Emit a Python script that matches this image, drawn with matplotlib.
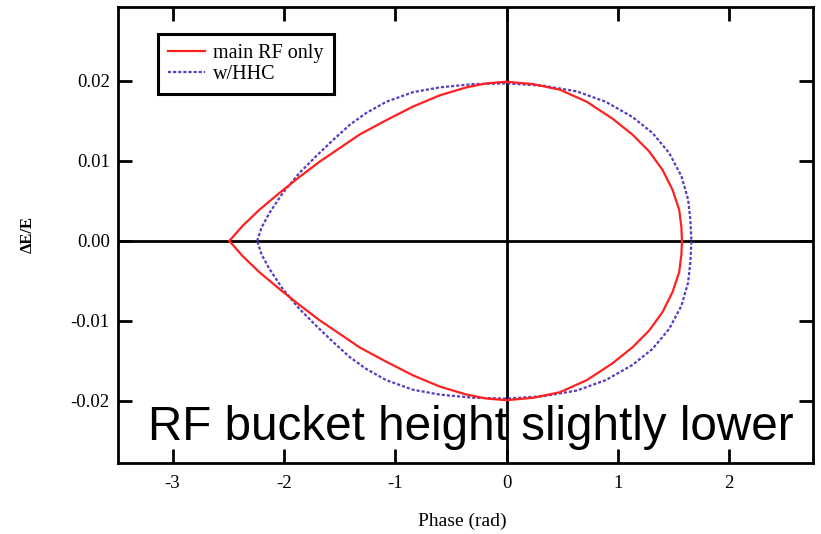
import matplotlib
matplotlib.use('Agg')
import matplotlib.pyplot as plt
import numpy as np

# upper half of each separatrix (lower half is the mirror)
phase_rf = [-2.49, -2.37, -2.22, -2.04, -1.86, -1.68, -1.50, -1.32, -1.08, -0.84,
            -0.60, -0.36, -0.18, 0.0, 0.24, 0.48, 0.72, 0.95, 1.13, 1.28,
            1.40, 1.49, 1.55, 1.57, 1.575]
de_rf = [0.0, 0.0019, 0.0039, 0.0060, 0.0080, 0.0099, 0.0116, 0.0133, 0.0151, 0.0168,
         0.0182, 0.0192, 0.0197, 0.0199, 0.0196, 0.0189, 0.0174, 0.0153, 0.0133, 0.0112,
         0.0089, 0.0064, 0.0039, 0.0017, 0.0]

phase_hhc = [-2.24, -2.20, -2.13, -2.01, -1.86, -1.71, -1.56, -1.41, -1.26, -1.08,
             -0.84, -0.60, -0.30, 0.0, 0.33, 0.63, 0.89, 1.13, 1.31, 1.46,
             1.57, 1.63, 1.65, 1.66]
de_hhc = [0.0, 0.0017, 0.0035, 0.0060, 0.0085, 0.0106, 0.0126, 0.0145, 0.0160, 0.0174,
          0.0186, 0.0192, 0.0196, 0.0197, 0.0194, 0.0187, 0.0174, 0.0155, 0.0135, 0.0110,
          0.0081, 0.0052, 0.0027, 0.0]

xticks = [-3, -2, -1, 0, 1, 2]
yticks = [-0.02, -0.01, 0.00, 0.01, 0.02]
ytick_labels = ['-0.02', '-0.01', '0.00', '0.01', '0.02']


def closed(x, y):
    x = np.array(x)
    y = np.array(y)
    return np.concatenate([x, x[::-1]]), np.concatenate([y, -y[::-1]])


fig = plt.figure(figsize=(8.21, 5.34), dpi=100)
ax = fig.add_axes([0.1437, 0.133, 0.8463, 0.854])

serif = 'Liberation Serif'

ax.axhline(0, color='black', lw=2, zorder=1)
ax.axvline(0, color='black', lw=2, zorder=1)

xr, yr = closed(phase_rf, de_rf)
xh, yh = closed(phase_hhc, de_hhc)
ax.plot(xr, yr, color='#ff2020', lw=1.6, label='main RF only', zorder=3,
        solid_joinstyle='round')
ax.plot(xh, yh, color='#5a3cc0', lw=1.6, ls=(0, (1.4, 0.9)), label='w/HHC', zorder=2)

ax.set_xlim(-3.49, 2.75)
ax.set_ylim(-0.02775, 0.02925)
ax.set_xticks(xticks)
ax.set_xticklabels([str(t) for t in xticks], fontfamily=serif, fontsize=13.5)
ax.set_yticks(yticks)
ax.set_yticklabels(ytick_labels, fontfamily=serif, fontsize=13.5)
ax.tick_params(direction='in', length=10, width=2, top=True, right=True)
ax.tick_params(axis='y', pad=6)
ax.tick_params(axis='x', pad=9)
for s in ax.spines.values():
    s.set_linewidth(2)

ax.set_xlabel('Phase (rad)', fontfamily=serif, fontsize=14, va='top')
ax.xaxis.set_label_coords(0.495, -0.108)
ax.set_ylabel('ΔE/E', fontfamily=serif, fontsize=12, fontweight='bold')
ax.yaxis.set_label_coords(-0.118, 0.5)

leg = ax.legend(loc='upper left', bbox_to_anchor=(0.057, 0.941), borderaxespad=0,
                fancybox=False, framealpha=1, edgecolor='black',
                prop={'family': serif, 'size': 14.5}, handlelength=1.85,
                handletextpad=0.4, labelspacing=0.08, borderpad=0.5)
leg.get_frame().set_linewidth(2.2)

fig.text(148 / 821, 94 / 534, 'RF bucket height slightly lower',
         fontfamily='Liberation Sans', fontsize=34.3, va='baseline', ha='left', zorder=5)

fig.savefig('out.png', dpi=100)
